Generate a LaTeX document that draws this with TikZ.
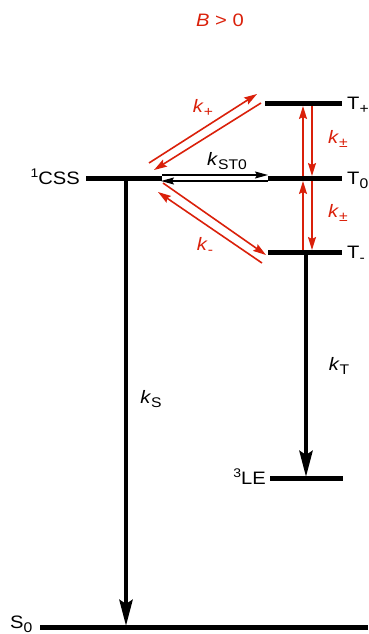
\documentclass[tikz,border=0pt]{standalone}
\usepackage{fontspec}
\setmainfont[FakeStretch=1.12]{Liberation Sans}
\usetikzlibrary{arrows.meta}
\definecolor{kred}{RGB}{218,32,10}
\newcommand\sbs[1]{\raisebox{-4pt}{\fontsize{14}{14}\selectfont #1}}
\newcommand\sps[1]{\raisebox{7pt}{\fontsize{12.5}{13}\selectfont #1}}
\begin{document}
\begin{tikzpicture}[x=1pt,y=-1pt,
  level/.style={line width=5pt},
  bigarrow/.style={line width=4.5pt,-{Stealth[length=26pt,width=13pt,inset=4pt]}},
  redarrow/.style={kred,line width=1.6pt,-{Stealth[length=13pt,width=8pt,inset=2pt]}},
  thinarrow/.style={black,line width=1.2pt,-{Stealth[length=13pt,width=7pt,inset=2pt]}},
  lab/.style={font=\fontsize{18}{20}\selectfont, inner sep=0pt},
  rlab/.style={lab, text=kred}]
\useasboundingbox (0,0) rectangle (368,634);

% title
\node[rlab,anchor=base] (title) at (220,27) {\textit{B} > 0};

% levels
\coordinate (cssL) at (86,178);  \coordinate (cssR) at (162,178);
\coordinate (tpL) at (265,103);  \coordinate (tpR) at (342,103);
\coordinate (t0L) at (268,178);  \coordinate (t0R) at (342,178);
\coordinate (tmL) at (268,252);  \coordinate (tmR) at (342,252);
\coordinate (leL) at (270,478);  \coordinate (leR) at (343,478);
\coordinate (s0L) at (40,627);   \coordinate (s0R) at (368,627);
\foreach \a/\b in {cssL/cssR,tpL/tpR,t0L/t0R,tmL/tmR,leL/leR,s0L/s0R}
  \draw[level] (\a) -- (\b);

% level labels
\node[lab,anchor=base east] (css) at (80,184) {\sps{1}CSS};
\node[lab,anchor=base west] (tp) at (347,109) {T\sbs{+}};
\node[lab,anchor=base west] (t0) at (347,184) {T\sbs{0}};
\node[lab,anchor=base west] (tm) at (347,258) {T\sbs{-}};
\node[lab,anchor=base east] (le) at (266,484) {\sps{3}LE};
\node[lab,anchor=base west] (s0) at (10,628) {S\sbs{0}};

% big decay arrows
\coordinate (ksA) at (126,178); \coordinate (ksB) at (126,626);
\coordinate (ktA) at (306,252); \coordinate (ktB) at (306,477);
\draw[bigarrow] (ksA) -- (ksB);
\draw[bigarrow] (ktA) -- (ktB);
\node[lab,anchor=base] (ks) at (151,403) {\textit{k}\sbs{S}};
\node[lab,anchor=base] (kt) at (339,370) {\textit{k}\sbs{T}};

% S-T0 mixing
\coordinate (stA) at (162,175); \coordinate (stB) at (268,175);
\coordinate (stC) at (268,181); \coordinate (stD) at (161,181);
\draw[thinarrow] (stA) -- (stB);
\draw[thinarrow] (stC) -- (stD);
\node[lab,anchor=base] (kst) at (227,165) {\textit{k}\sbs{ST0}};

% S - T+ pair
\coordinate (a1) at (149,163); \coordinate (a2) at (257,94);
\coordinate (b1) at (261,103); \coordinate (b2) at (154,170);
\draw[redarrow] (a1) -- (a2);
\draw[redarrow] (b1) -- (b2);
\node[rlab,anchor=base] (kp) at (203,112) {\textit{k}\sbs{+}};

% S - T- pair
\coordinate (c1) at (163,183); \coordinate (c2) at (266,255);
\coordinate (d1) at (262,263); \coordinate (d2) at (158,192);
\draw[redarrow] (c1) -- (c2);
\draw[redarrow] (d1) -- (d2);
\node[rlab,anchor=base] (km) at (205,250) {\textit{k}\sbs{-}};

% T-T relaxation
\coordinate (u1) at (303,176); \coordinate (u2) at (303,106);
\coordinate (u3) at (303,250); \coordinate (u4) at (303,181);
\coordinate (v1) at (312,106); \coordinate (v2) at (312,176);
\coordinate (v3) at (312,181); \coordinate (v4) at (312,250);
\draw[redarrow] (u1) -- (u2);
\draw[redarrow] (u3) -- (u4);
\draw[redarrow] (v1) -- (v2);
\draw[redarrow] (v3) -- (v4);
\node[rlab,anchor=base] (kpm1) at (338,143) {\textit{k}\sbs{±}};
\node[rlab,anchor=base] (kpm2) at (338,217) {\textit{k}\sbs{±}};
\end{tikzpicture}
\end{document}
